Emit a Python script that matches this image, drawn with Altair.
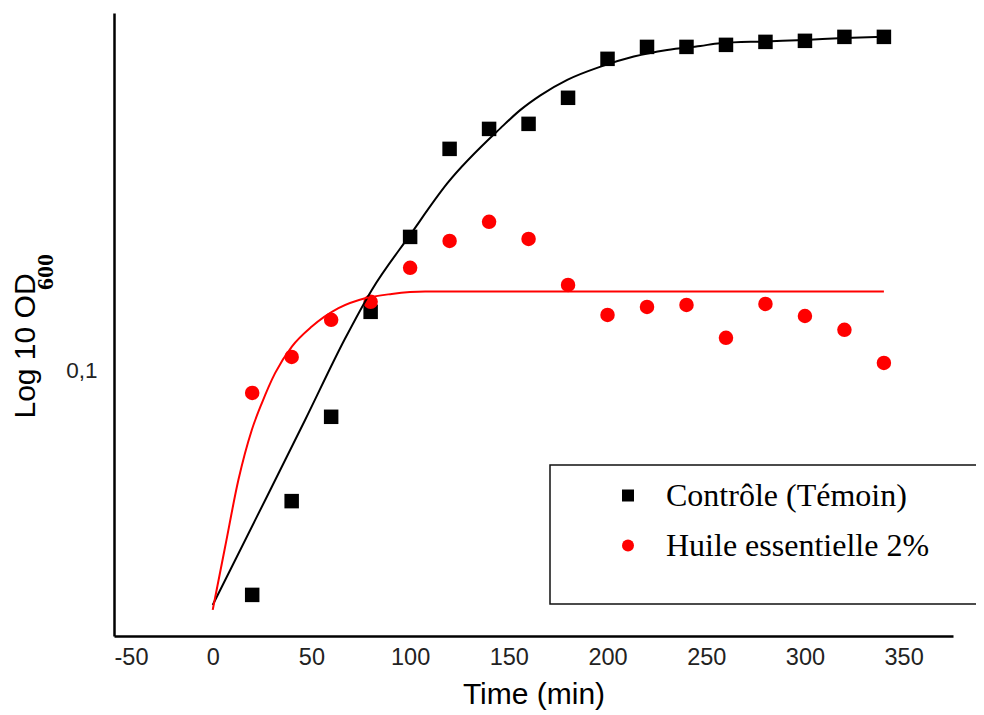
import altair as alt
import pandas as pd

# Measured data (time in min, OD600 on log scale)
time_pts = [20, 40, 60, 80, 100, 120, 140, 160, 180, 200, 220, 240, 260, 280, 300, 320, 340]
controle = [0.0437, 0.0618, 0.0844, 0.1244, 0.1641, 0.2272, 0.2446, 0.2492, 0.2744,
            0.3169, 0.3312, 0.3312, 0.3337, 0.3374, 0.3387, 0.3437, 0.3437]
huile = [0.0922, 0.1053, 0.1208, 0.1291, 0.1464, 0.1617, 0.1735, 0.1629, 0.1374,
         0.1230, 0.1267, 0.1276, 0.1130, 0.1281, 0.1225, 0.1164, 0.1030]

# Fitted curves
fit_ctrl_t = [0, 21.5, 46.8, 67, 80.6, 100, 119, 145.8, 155.9, 166, 179.6, 196.5, 213.3,
              230.2, 247, 257, 280, 300, 320, 340]
fit_ctrl_v = [0.0421, 0.0576, 0.0834, 0.1126, 0.1349, 0.1653, 0.2003, 0.2453, 0.2624, 0.2769,
              0.2932, 0.3079, 0.3196, 0.3275, 0.3324, 0.3357, 0.3380, 0.3399, 0.3422, 0.3437]
fit_huile_t = [0, 6.3, 13, 19.8, 24.9, 31.6, 40.1, 50.2, 63.7, 77.2, 90.7, 107.6, 340]
fit_huile_v = [0.04135, 0.0522, 0.0668, 0.0804, 0.0888, 0.0992, 0.1094, 0.1178, 0.1261,
               0.1308, 0.1329, 0.1341, 0.1341]

series_names = ["Contrôle (Témoin)", "Huile essentielle 2%"]
x_ticks = [-50, 0, 50, 100, 150, 200, 250, 300, 350]
y_ticks = [0.1]

pts = pd.DataFrame({
    "t": time_pts * 2,
    "od": controle + huile,
    "serie": [series_names[0]] * len(time_pts) + [series_names[1]] * len(time_pts),
})
fit_c = pd.DataFrame({"t": fit_ctrl_t, "od": fit_ctrl_v})
fit_h = pd.DataFrame({"t": fit_huile_t, "od": fit_huile_v})

x_enc = alt.X("t:Q", scale=alt.Scale(domain=[-50, 375], nice=False, zero=False),
              axis=alt.Axis(values=x_ticks, labelExpr="'' + datum.value",
                            title="Time (min)", titleFontSize=30,
                            titleFont="Liberation Sans", titleFontWeight="normal",
                            titlePadding=11, labelPadding=9, labelFontSize=23.5))
y_scale = alt.Scale(type="log", domain=[0.03754, 0.3754], nice=False)
y_enc = alt.Y("od:Q", scale=y_scale,
              axis=alt.Axis(values=y_ticks, labelExpr="'0,1'", title="Log 10 OD",
                            titleFontSize=30, titleFont="Liberation Sans",
                            titleFontWeight="normal", titleAngle=270,
                            titleX=-89, titleY=332.5, titleAlign="center",
                            titleBaseline="middle", labelPadding=17, labelFontSize=22.5))

points = alt.Chart(pts).mark_point(filled=True, size=210, opacity=1).encode(
    x=x_enc, y=y_enc,
    color=alt.Color("serie:N", scale=alt.Scale(domain=series_names, range=["black", "red"]),
                    legend=alt.Legend(title=None, orient="none", legendX=498, legendY=466.5,
                                      symbolSize=144, labelFontSize=32,
                                      labelFont="Liberation Serif", labelColor="black",
                                      labelOffset=22, rowPadding=18, padding=0,
                                      symbolStrokeWidth=0, labelLimit=400)),
    shape=alt.Shape("serie:N", scale=alt.Scale(domain=series_names, range=["square", "circle"])),
)

line_c = alt.Chart(fit_c).mark_line(color="black", strokeWidth=2, interpolate="monotone").encode(
    x="t:Q", y=alt.Y("od:Q", scale=y_scale))
line_h = alt.Chart(fit_h).mark_line(color="red", strokeWidth=2, interpolate="monotone").encode(
    x="t:Q", y=alt.Y("od:Q", scale=y_scale))

box = alt.Chart(pd.DataFrame({"a": [0]})).mark_rect(
    fillOpacity=0, stroke="#111", strokeWidth=1.5).encode(
    x=alt.value(436), x2=alt.value(890), y=alt.value(452), y2=alt.value(591))

sub = alt.Chart(pd.DataFrame({"s": ["600"]})).mark_text(
    font="Liberation Serif", fontWeight="bold", fontSize=24, angle=270,
    align="center", baseline="middle", color="black").encode(
    text="s:N", x=alt.value(-68), y=alt.value(259))

chart = alt.layer(points, line_c, line_h, box, sub).properties(
    width=839, height=623,
    autosize=alt.AutoSizeParams(type="none"),
    padding={"left": 106, "top": 5, "right": 23, "bottom": 79},
).configure_view(stroke=None).configure_axis(
    grid=False, ticks=False, domainColor="black", domainWidth=2.5,
    labelFont="Liberation Sans", labelColor="#222",
    titleColor="black",
)

chart.save("out.html", embed_options={"renderer": "svg", "actions": False})
